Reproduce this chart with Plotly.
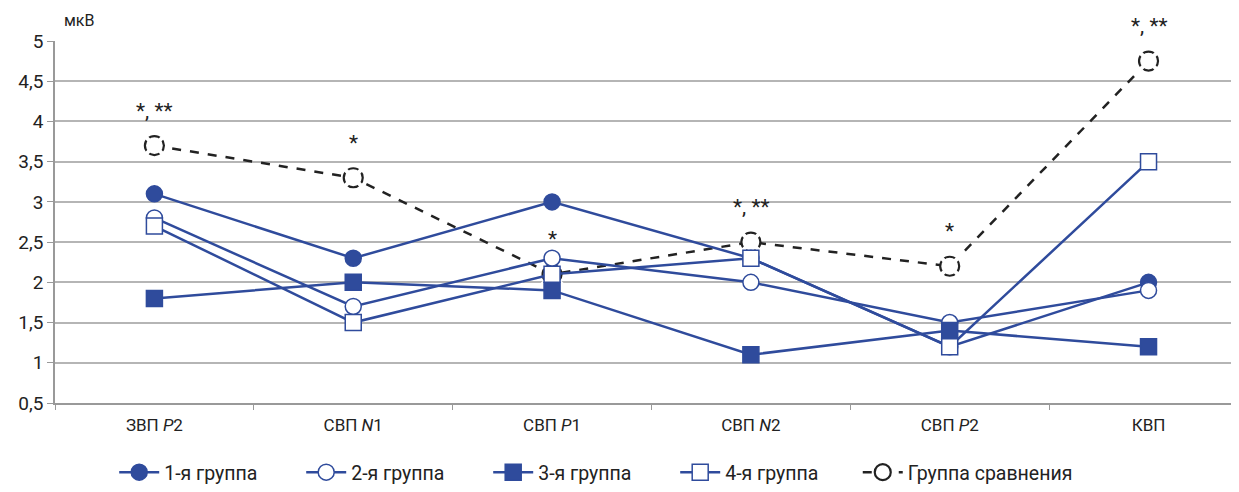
import plotly.graph_objects as go

categories = ["ЗВП <i>P</i>2", "СВП <i>N</i>1", "СВП <i>P</i>1", "СВП <i>N</i>2", "СВП <i>P</i>2", "КВП"]
group1 = [3.1, 2.3, 3.0, 2.3, 1.2, 2.0]
group2 = [2.8, 1.7, 2.3, 2.0, 1.5, 1.9]
group3 = [1.8, 2.0, 1.9, 1.1, 1.4, 1.2]
group4 = [2.7, 1.5, 2.1, 2.3, 1.2, 3.5]
comparison = [3.7, 3.3, 2.1, 2.5, 2.2, 4.75]
sig_labels = ["*, **", "*", "*", "*, **", "*", "*, **"]
y_ticks = [0.5, 1, 1.5, 2, 2.5, 3, 3.5, 4, 4.5, 5]
y_ticktext = ["0,5", "1", "1,5", "2", "2,5", "3", "3,5", "4", "4,5", "5"]

BLUE = "#2f4b9c"
DARK = "#222222"
FONT = "Roboto, sans-serif"

fig = go.Figure()

# comparison group (drawn first, below the others)
fig.add_trace(go.Scatter(
    x=categories, y=comparison, mode="lines+markers", name="Группа сравнения",
    line=dict(color=DARK, width=2.5, dash="dash"),
    marker=dict(symbol="circle", size=19, color="white", line=dict(color=DARK, width=2.2)),
    legend="legend2",
))
# white cuts to make the marker outline look dashed
fig.add_trace(go.Scatter(
    x=categories, y=comparison, mode="markers", showlegend=False, hoverinfo="skip",
    marker=dict(symbol="x-thin", size=26, color="white", line=dict(color="white", width=4)),
))

series = [
    ("1-я группа", group1, "circle", BLUE),
    ("2-я группа", group2, "circle", "white"),
    ("3-я группа", group3, "square", BLUE),
    ("4-я группа", group4, "square", "white"),
]
for i, (name, vals, sym, fill) in enumerate(series):
    fig.add_trace(go.Scatter(
        x=categories, y=vals, mode="lines+markers", name=name,
        line=dict(color=BLUE, width=2.5),
        marker=dict(symbol=sym, size=16, color=fill, line=dict(color=BLUE, width=1.5)),
        legendrank=i + 1, legend="legend",
    ))

for cat, val, lab in zip(categories, comparison, sig_labels):
    fig.add_annotation(x=cat, y=val, text=lab, showarrow=False, yshift=35,
                       font=dict(family=FONT, size=21, color=DARK))

fig.add_annotation(xref="paper", yref="paper", x=0.006, y=1, xanchor="left", yanchor="middle",
                   yshift=21, text="мкВ", showarrow=False, font=dict(family=FONT, size=16, color=DARK))

legend_common = dict(orientation="h", xanchor="left", yref="container", y=0.0, yanchor="bottom",
                     font=dict(family=FONT, size=19.5, color=DARK), itemwidth=40,
                     bgcolor="rgba(0,0,0,0)")

# the page body has an 8px margin, so the figure is sized/offset to compensate
fig.update_layout(
    width=1231, height=484,
    margin=dict(l=47, r=0, t=33, b=89, autoexpand=False),
    paper_bgcolor="white", plot_bgcolor="white",
    font=dict(family=FONT, size=17, color=DARK),
    showlegend=True,
    legend=dict(x=0.05, entrywidth=132, entrywidthmode="pixels", traceorder="normal", **legend_common),
    legend2=dict(x=0.678, **legend_common),
)
fig.update_xaxes(
    type="category", range=[-0.5, 5.455], showgrid=False, automargin=False,
    showline=True, linecolor="#999999", linewidth=1.5,
    ticks="outside", tickson="boundaries", ticklen=5, tickcolor="#999999",
    ticklabelstandoff=6,
    tickfont=dict(family=FONT, size=17, color=DARK), fixedrange=True,
)
fig.update_yaxes(
    range=[0.5, 5], tickvals=y_ticks, ticktext=y_ticktext, automargin=False,
    showgrid=True, gridcolor="#b5b5b5", gridwidth=2,
    showline=True, linecolor="#999999", linewidth=1.5,
    ticks="outside", ticklen=6, tickcolor="#999999",
    tickfont=dict(family=FONT, size=19, color=DARK), zeroline=False,
)

fig.write_html("out.html")
